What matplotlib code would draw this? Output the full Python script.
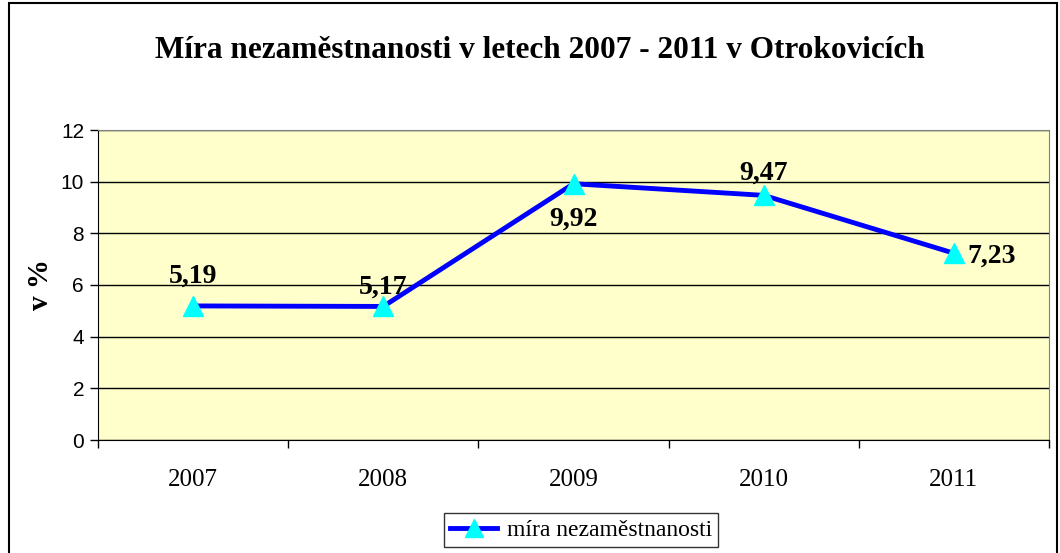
import matplotlib.pyplot as plt
from matplotlib.patches import Rectangle

years = ["2007", "2008", "2009", "2010", "2011"]
rates = [5.19, 5.17, 9.92, 9.47, 7.23]
labels = ["5,19", "5,17", "9,92", "9,47", "7,23"]
y_ticks = [0, 2, 4, 6, 8, 10, 12]

fig = plt.figure(figsize=(10.6, 5.53), dpi=100)
ax = fig.add_axes([98 / 1060, 113 / 553, 951 / 1060, 310 / 553])
ax.set_facecolor("#FFFFCC")

x = list(range(len(years)))
ax.plot(x, rates, color="#0000FF", linewidth=3.5, marker="^", markersize=14,
        markerfacecolor="#00FFFF", markeredgecolor="#00FFFF",
        label="míra nezaměstnanosti", zorder=3)

# popisky hodnot: (posun x, posun y v bodech, zarovnání)
offsets = [(0, 17, "center"), (0, 9, "center"), (0, -30, "center"),
           (0, 11.5, "center"), (10, -7, "left")]
for i, (dx, dy, ha) in enumerate(offsets):
    ax.annotate(labels[i], (x[i], rates[i]), xytext=(dx, dy), textcoords="offset points",
                ha=ha, va="baseline", fontsize=20, fontweight="bold",
                family="Liberation Serif", zorder=4)

ax.set_xlim(-0.5, len(years) - 0.5)
ax.set_ylim(0, 12)
ax.set_yticks(y_ticks)
ax.set_yticklabels([str(t) for t in y_ticks], family="Liberation Sans", fontsize=15)
ax.set_xticks(x)
ax.set_xticklabels(years, family="Liberation Serif", fontsize=18)
ax.set_xticks([i - 0.5 for i in range(len(years) + 1)], minor=True)
ax.tick_params(axis="x", which="major", length=0, pad=21)
ax.tick_params(axis="x", which="minor", length=6, direction="out", width=1)
ax.tick_params(axis="y", length=6, direction="out", width=1, pad=4)
ax.grid(axis="y", color="black", linewidth=1)
ax.set_axisbelow(True)
for side in ["top", "right"]:
    ax.spines[side].set_color("#808080")
for side in ["left", "bottom"]:
    ax.spines[side].set_color("black")

ax.set_ylabel("v %", family="Liberation Serif", fontweight="bold", fontsize=21, labelpad=5)
fig.text(540 / 1060, 1 - 50 / 553, "Míra nezaměstnanosti v letech 2007 - 2011 v Otrokovicích",
         ha="center", va="center", family="Liberation Serif", fontweight="bold", fontsize=22.5)

leg = ax.legend(loc="center", bbox_to_anchor=(581 / 1060, 1 - 530 / 553),
                bbox_transform=fig.transFigure, prop={"family": "Liberation Serif", "size": 17},
                frameon=True, fancybox=False, edgecolor="black", handlelength=2.0,
                handletextpad=0.4, borderpad=0.25, markerscale=0.9)
leg.get_frame().set_linewidth(1)

fig.patches.append(Rectangle((9 / 1060, -0.1), 1048 / 1060, 1.1 - 3 / 553,
                             transform=fig.transFigure, fill=False,
                             edgecolor="black", linewidth=1.5))

fig.savefig("out.png", dpi=100)
